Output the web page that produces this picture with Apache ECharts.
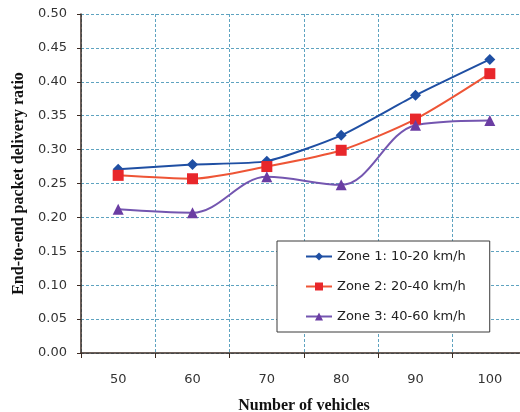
<!DOCTYPE html>
<html>
<head>
<meta charset="utf-8">
<script src="https://cdn.jsdelivr.net/npm/echarts@6/dist/echarts.min.js"></script>
<style>
    html, body {margin:0;padding:0;background:#fff;}
    #chart {width:520px;height:412px;}
</style>
</head>
<body>
<div id="chart"></div>
<script>
    var vehicles = ['50', '60', '70', '80', '90', '100'];
    var zone1 = [0.271, 0.278, 0.283, 0.321, 0.380, 0.433];
    var zone2 = [0.262, 0.257, 0.275, 0.299, 0.345, 0.412];
    var zone3 = [0.212, 0.207, 0.260, 0.248, 0.336, 0.343];
    var names = ['Zone 1: 10-20 km/h', 'Zone 2: 20-40 km/h', 'Zone 3: 40-60 km/h'];

    var chart = echarts.init(document.getElementById('chart'));
    var labelFont = 'DejaVu Sans';
    var gridLine = {show: true, lineStyle: {color: '#5fa3c0', type: [3, 2], width: 1}};

    var option = {
        animation: false,
        backgroundColor: '#fff',
        grid: {left: 81, top: 14, width: 446, bottom: 59, containLabel: false, outerBoundsMode: 'none'},
        legend: {
            orient: 'vertical',
            left: 277, top: 241,
            padding: [9, 24, 9, 28],
            itemGap: 17,
            itemWidth: 26, itemHeight: 10,
            backgroundColor: '#fff',
            borderColor: '#3a3a3a',
            borderWidth: 1,
            textStyle: {fontFamily: labelFont, fontSize: 13, color: '#222'},
            data: names
        },
        xAxis: {
            type: 'category',
            data: vehicles,
            boundaryGap: true,
            name: 'Number of vehicles',
            nameLocation: 'middle',
            nameGap: 45,
            nameTextStyle: {fontFamily: 'Liberation Serif', fontWeight: 'bold', fontSize: 16, color: '#111'},
            axisLine: {lineStyle: {color: '#3b2a22', width: 1.5}},
            axisTick: {show: true, length: 5, lineStyle: {color: '#3b2a22'}},
            axisLabel: {fontFamily: labelFont, fontSize: 13, color: '#333', margin: 20},
            splitLine: gridLine
        },
        yAxis: {
            type: 'value',
            min: 0, max: 0.5, interval: 0.05,
            name: 'End-to-end packet delivery ratio',
            nameLocation: 'middle',
            nameGap: 52,
            nameTextStyle: {fontFamily: 'Liberation Serif', fontWeight: 'bold', fontSize: 16, color: '#111'},
            axisLine: {show: true, lineStyle: {color: '#3b2a22', width: 1.5}},
            axisTick: {show: true, length: 4, lineStyle: {color: '#3b2a22'}},
            axisLabel: {fontFamily: labelFont, fontSize: 13, color: '#333', margin: 14,
                formatter: function (v) { return v.toFixed(2); }},
            splitLine: gridLine
        },
        series: [
            {
                name: names[0], type: 'line', data: zone1, smooth: 0.2,
                symbol: 'diamond', symbolSize: 11,
                itemStyle: {color: '#1f4fa3'},
                lineStyle: {color: '#1f4fa3', width: 2}
            },
            {
                name: names[1], type: 'line', data: zone2, smooth: 0.25,
                symbol: 'rect', symbolSize: 11,
                itemStyle: {color: '#e8272b'},
                lineStyle: {color: '#ee5536', width: 2}
            },
            {
                name: names[2], type: 'line', data: zone3, smooth: 0.35,
                symbol: 'triangle', symbolSize: 11,
                itemStyle: {color: '#6b3da3'},
                lineStyle: {color: '#7456b0', width: 2}
            }
        ]
    };
    chart.setOption(option);
    window.onresize = function () {
        chart.resize();
    };
</script>
</body>
</html>
